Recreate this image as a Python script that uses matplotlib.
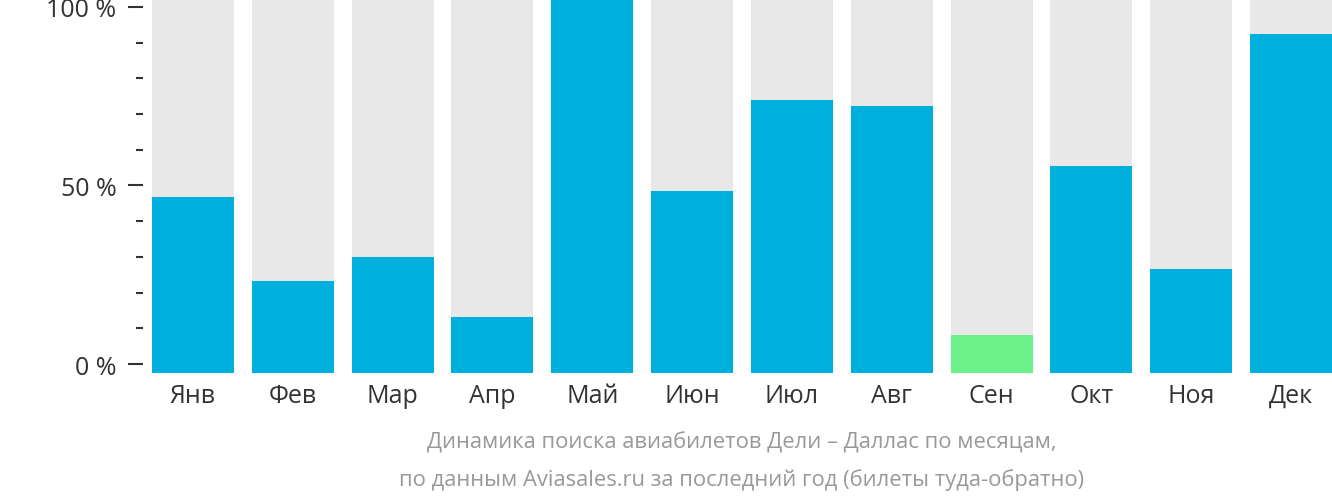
import matplotlib.pyplot as plt
from matplotlib.ticker import MultipleLocator, FuncFormatter

plt.rcParams['font.family'] = ['Open Sans', 'DejaVu Sans']

months = ['Янв', 'Фев', 'Мар', 'Апр', 'Май', 'Июн',
          'Июл', 'Авг', 'Сен', 'Окт', 'Ноя', 'Дек']
values = [47.1, 24.6, 31.0, 15.0, 100.0, 48.7,
          73.0, 71.4, 10.2, 55.3, 27.8, 90.6]
highlight = 'Сен'

blue = '#00b0dc'
green = '#6cf08a'
back = '#e8e8e8'
txt = '#333333'

fig = plt.figure(figsize=(13.32, 5.02), dpi=100)
ax = fig.add_axes([152 / 1332, 1 - 374 / 502, 1180 / 1332, 374 / 502])

x = range(len(months))
cols = [green if m == highlight else blue for m in months]
ax.bar(x, [100] * len(months), width=0.82, color=back)
ax.bar(x, values, width=0.82, color=cols)

ax.set_xlim(-0.41, len(months) - 0.59)
ax.set_ylim(0, 100)
for s in ax.spines.values():
    s.set_visible(False)
ax.set_xticks(list(x))
ax.set_xticklabels(months, fontsize=18, color=txt)
ax.tick_params(axis='x', length=0, pad=7)
ax.set_yticks([])

# axis scale is slightly inset from the bar area
lo, hi = 2.4, 97.9
sec = ax.secondary_yaxis(-9 / 1180,
                         functions=(lambda v: (v - lo) / (hi - lo) * 100,
                                    lambda p: lo + p * (hi - lo) / 100))
sec.spines['left'].set_visible(False)
sec.yaxis.set_major_locator(MultipleLocator(50))
sec.yaxis.set_minor_locator(MultipleLocator(10))
sec.yaxis.set_major_formatter(FuncFormatter(lambda v, p: '%d %%' % round(v)))
sec.tick_params(axis='y', which='major', length=11, width=1.5, color=txt,
                labelsize=18, labelcolor=txt, pad=8)
sec.tick_params(axis='y', which='minor', length=5, width=1.5, color=txt)

fig.text(742 / 1332, 1 - 443 / 502,
         'Динамика поиска авиабилетов Дели – Даллас по месяцам,',
         ha='center', va='center', fontsize=15.8, color='#999999')
fig.text(742 / 1332, 1 - 480 / 502,
         'по данным Aviasales.ru за последний год (билеты туда-обратно)',
         ha='center', va='center', fontsize=15.8, color='#999999')

fig.savefig('out.png', dpi=100)
